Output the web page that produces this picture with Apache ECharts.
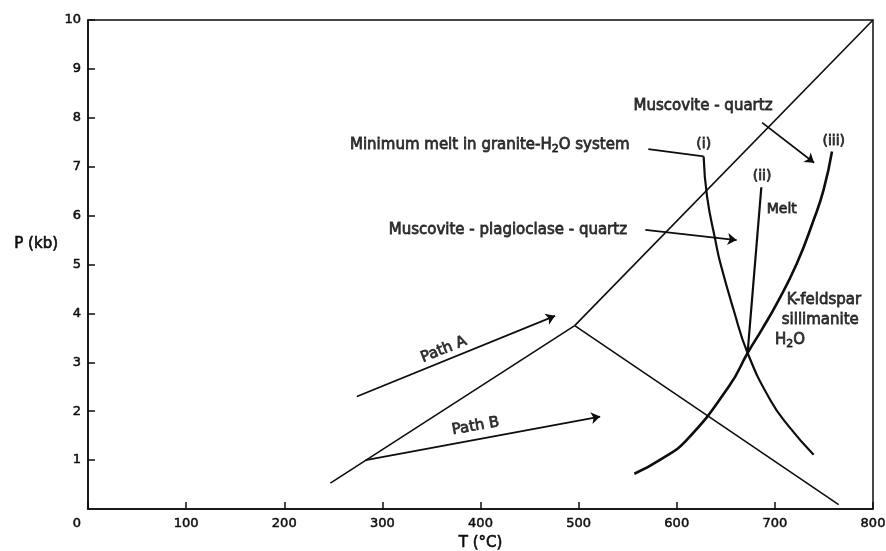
<!DOCTYPE html>
<html>
<head>
<meta charset="utf-8">
<script src="https://cdn.jsdelivr.net/npm/echarts@6/dist/echarts.min.js"></script>
<style>
  html, body { margin: 0; padding: 0; background: #fff; }
  #chart { width: 886px; height: 551px; }
</style>
</head>
<body>
<div id="chart"></div>
<script>
// reaction boundaries meeting at the triple point (T in °C, P in kb)
var lowerBranch = [[247, 0.53], [496, 3.75]];
var upperBranch = [[496, 3.75], [800, 10]];
var descendingBranch = [[496, 3.75], [765, 0.09]];

// curve (i) minimum melt, curve (ii) melt, curve (iii) K-feldspar reaction
var minMeltCurve = [[627.4, 7.21], [630.9, 6.39], [639.3, 5.50], [644.4, 5.03], [658, 4.07], [672.2, 3.19], [695.3, 2.23], [714.2, 1.69], [739.5, 1.11]];
var meltCurve = [[686.2, 6.58], [672.2, 3.19]];
var kfsCurve = [[758.2, 7.31], [749.7, 6.53], [739.5, 5.91], [722.6, 5.03], [702.2, 4.21], [686.7, 3.67], [672.2, 3.19], [653.6, 2.52], [610.5, 1.42], [583.3, 1.01], [556.8, 0.72]];

// leader line and arrows
var minMeltLeader = [[571, 7.36], [627.4, 7.21]];
var pathA = [[274, 2.30], [476, 3.95]];
var pathB = [[283, 1.0], [522, 1.89]];
var muscPlagArrow = [[568, 5.71], [661, 5.50]];
var muscQtzArrow = [[687, 7.90], [740, 7.08]];

// text labels: [T, P, text]
var leftLabels = [
  [267, 7.45, '{n|Minimum melt in granite-H}{s|2}{n|O system}'],
  [306.5, 5.71, '{n|Muscovite - plagioclase - quartz}'],
  [556, 8.24, '{n|Muscovite - quartz}'],
  [712, 4.28, '{n|K-feldspar}'],
  [707, 3.87, '{n|sillimanite}'],
  [700, 3.46, '{n|H}{s|2}{n|O}']
];
var centerLabels = [
  [627.5, 7.45, '(i)'],
  [687, 6.80, '(ii)'],
  [760, 7.51, '(iii)'],
  [707, 6.12, 'Melt']
];
var pathLabels = [
  [362.5, 3.26, 'Path A', 22],
  [395, 1.69, 'Path B', 10]
];

var FONT = 'DejaVu Sans';
var INK = '#0d0d0d';
var BOLDEN = { textBorderColor: INK, textBorderWidth: 0.8 };

var chart = echarts.init(document.getElementById('chart'));

var rich = {
  n: Object.assign({ fontFamily: FONT, fontSize: 15, color: INK, lineHeight: 20 }, BOLDEN),
  s: Object.assign({ fontFamily: FONT, fontSize: 11, color: INK, lineHeight: 11, verticalAlign: 'bottom' }, BOLDEN)
};

function lineSeries(data, width, smooth) {
  return {
    type: 'line',
    data: data,
    smooth: smooth || false,
    showSymbol: false,
    symbol: 'none',
    silent: true,
    lineStyle: { color: INK, width: width },
    z: 3
  };
}

function arrowData(list) {
  return list.map(function (p) { return { coords: p }; });
}

var tickText = { fontFamily: FONT, fontSize: 13, color: INK, textBorderColor: INK, textBorderWidth: 0.5 };
var nameText = { fontFamily: FONT, fontSize: 15, color: INK, textBorderColor: INK, textBorderWidth: 0.6 };

chart.setOption({
  backgroundColor: '#fff',
  animation: false,
  grid: {
    left: 88, right: 13, top: 20, bottom: 42,
    containLabel: false,
    outerBoundsMode: 'none',
    show: true, borderColor: INK, borderWidth: 1.5
  },
  xAxis: {
    type: 'value',
    min: 0, max: 800, interval: 100,
    name: 'T (°C)',
    nameLocation: 'middle',
    nameGap: 25,
    nameTextStyle: nameText,
    axisLine: { lineStyle: { color: INK, width: 1.5 } },
    axisTick: { inside: true, length: 7, lineStyle: { color: INK, width: 1.5 } },
    axisLabel: Object.assign({
      margin: 8,
      formatter: function (v) { return v === 0 ? '{z|0}' : String(v); },
      rich: { z: Object.assign({ padding: [0, 22, 0, 0] }, tickText) }
    }, tickText),
    splitLine: { show: false }
  },
  yAxis: {
    type: 'value',
    min: 0, max: 10, interval: 1,
    name: '{a|P (kb)}',
    nameLocation: 'middle',
    nameRotate: 0,
    nameGap: 25,
    nameTextStyle: Object.assign({
      align: 'right',
      rich: { a: Object.assign({ padding: [0, 0, 40, 0] }, nameText) }
    }, nameText),
    axisLine: { lineStyle: { color: INK, width: 1.5 } },
    axisTick: { inside: true, length: 7, lineStyle: { color: INK, width: 1.5 } },
    axisLabel: Object.assign({ margin: 7, showMinLabel: false }, tickText),
    showMinLabel: false,
    splitLine: { show: false }
  },
  series: [
    lineSeries(lowerBranch, 1.6),
    lineSeries(upperBranch, 1.6),
    lineSeries(descendingBranch, 1.6),
    lineSeries(minMeltCurve, 2.2, true),
    lineSeries(meltCurve, 2.2),
    lineSeries(kfsCurve, 2.6, true),
    lineSeries(minMeltLeader, 1.8),
    {
      type: 'lines',
      coordinateSystem: 'cartesian2d',
      silent: true,
      symbol: ['none', 'arrow'],
      symbolSize: 9,
      lineStyle: { color: INK, width: 1.7, opacity: 1 },
      data: arrowData([pathA, pathB, muscPlagArrow, muscQtzArrow]),
      z: 4
    },
    {
      type: 'scatter',
      symbolSize: 0,
      silent: true,
      clip: false,
      data: leftLabels.map(function (d) { return { value: [d[0], d[1]], name: d[2] }; }),
      label: {
        show: true, position: [0, 0], align: 'left', verticalAlign: 'middle',
        formatter: function (p) { return p.name; },
        rich: rich
      },
      z: 5
    },
    {
      type: 'scatter',
      symbolSize: 0,
      silent: true,
      data: centerLabels.map(function (d) { return { value: [d[0], d[1]], name: d[2] }; }),
      label: Object.assign({
        show: true, position: [0, 0], align: 'center', verticalAlign: 'middle',
        fontFamily: FONT, fontSize: 14, color: INK,
        formatter: function (p) { return p.name; }
      }, BOLDEN),
      z: 5
    },
    {
      type: 'scatter',
      symbolSize: 0,
      silent: true,
      data: pathLabels.map(function (d) {
        return { value: [d[0], d[1]], name: d[2], label: { rotate: d[3] } };
      }),
      label: Object.assign({
        show: true, position: [0, 0], align: 'center', verticalAlign: 'middle',
        fontFamily: FONT, fontSize: 15, color: INK,
        formatter: function (p) { return p.name; }
      }, BOLDEN),
      z: 5
    }
  ]
});
</script>
</body>
</html>
